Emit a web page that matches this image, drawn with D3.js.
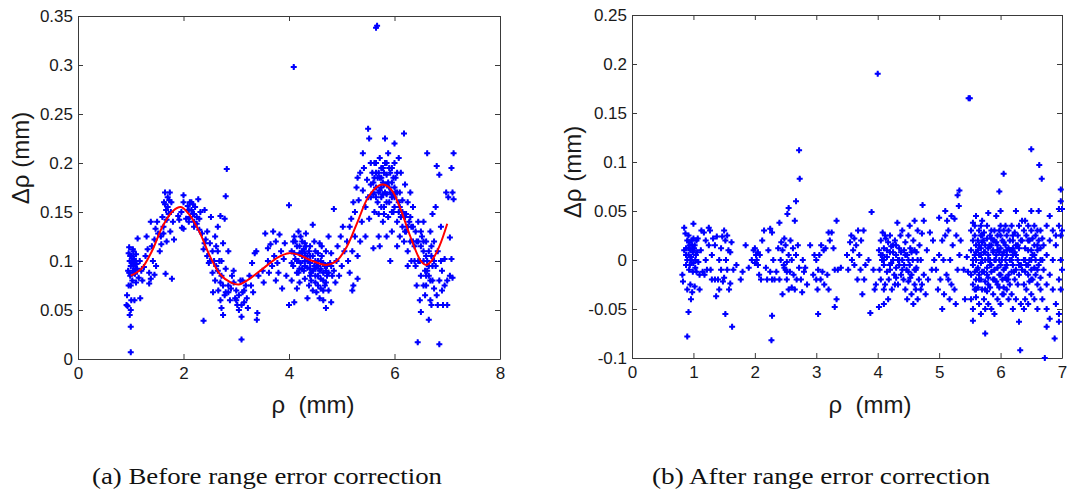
<!DOCTYPE html>
<html>
<head>
<meta charset="utf-8">
<script src="https://cdn.jsdelivr.net/npm/d3@7"></script>
<style>
body { margin: 0; background: #fff; }
</style>
</head>
<body>
<svg id="fig" width="1068" height="491"></svg>
<script>

// ---- panel (a): before correction ----
var xTicksA = [0, 2, 4, 6, 8];
var yTicksA = [0, 0.05, 0.1, 0.15, 0.2, 0.25, 0.3, 0.35];
var yLabelsA = ["0", "0.05", "0.1", "0.15", "0.2", "0.25", "0.3", "0.35"];

var fitRho  = [1.0, 1.2, 1.4, 1.6, 1.8, 1.95, 2.1, 2.3, 2.5, 2.7, 2.9, 3.05, 3.2, 3.5, 3.8, 4.0, 4.2, 4.4, 4.7, 4.9, 5.1, 5.3, 5.5, 5.7, 5.8, 5.95, 6.1, 6.3, 6.5, 6.6, 6.7, 6.85, 7.0];
var fitDrho = [0.085, 0.092, 0.11, 0.135, 0.151, 0.155, 0.148, 0.13, 0.105, 0.086, 0.078, 0.076, 0.08, 0.092, 0.104, 0.108, 0.106, 0.101, 0.096, 0.1, 0.115, 0.14, 0.165, 0.177, 0.178, 0.172, 0.155, 0.125, 0.1, 0.096, 0.1, 0.115, 0.138];

var beforeOutliers = [[5.65,0.338],[5.67,0.34],[4.09,0.298],[2.82,0.194],[2.8,0.166],[4.0,0.157],[1.0,0.007],[1.0,0.033],[3.1,0.02],[6.44,0.017],[6.85,0.015],[2.38,0.039],[3.39,0.04],[5.72,0.115]];

var beforeLeft = [[0.92,0.055],[0.93,0.065],[0.95,0.09],[0.96,0.108],[0.97,0.114],[0.98,0.1],[0.99,0.085],[1.0,0.075],[1.0,0.095],[1.02,0.105],[1.03,0.08],[1.04,0.112],[1.05,0.095],[1.06,0.088],[1.07,0.06],[1.08,0.1],[1.1,0.107],[1.1,0.078],[1.12,0.092],[1.13,0.123],[1.15,0.083],[1.17,0.1],[1.18,0.062],[1.2,0.09],[1.22,0.08],[0.96,0.075],[0.98,0.045],[1.01,0.06],[1.0,0.05],[0.94,0.054],[1.05,0.11],[1.08,0.087],[1.11,0.097],[1.25,0.094],[1.28,0.105],[1.3,0.125],[1.32,0.112],[1.35,0.088],[1.38,0.14],[1.4,0.115],[1.42,0.1],[1.45,0.122],[1.47,0.133],[1.48,0.095],[1.5,0.14],[1.52,0.128],[1.55,0.11],[1.57,0.125],[1.6,0.145],[1.62,0.135],[1.63,0.16],[1.65,0.17],[1.67,0.152],[1.68,0.12],[1.7,0.165],[1.72,0.148],[1.74,0.17],[1.75,0.13],[1.77,0.16],[1.78,0.082],[1.8,0.14],[1.82,0.122],[1.38,0.082],[1.45,0.086],[1.35,0.077],[1.66,0.087],[1.58,0.117],[1.62,0.128],[1.9,0.146],[1.92,0.142],[1.96,0.15],[2.0,0.16],[2.0,0.167],[1.97,0.134],[2.05,0.143],[2.08,0.156],[2.1,0.152],[2.12,0.145],[2.15,0.16],[2.18,0.148],[2.2,0.14],[2.22,0.155],[2.25,0.138],[2.28,0.163],[2.3,0.132],[2.32,0.15],[2.35,0.128],[2.38,0.112],[2.4,0.152],[2.42,0.122],[2.45,0.105],[2.45,0.13],[2.48,0.098],[2.5,0.118],[2.52,0.145],[2.55,0.11],[2.55,0.088],[2.58,0.1],[2.6,0.125],[2.62,0.095],[2.65,0.135],[2.65,0.11],[2.68,0.1],[2.7,0.146],[2.72,0.085],[2.75,0.118],[2.75,0.075],[2.78,0.143],[2.8,0.092],[2.56,0.068],[2.6,0.08],[2.66,0.07],[2.7,0.06],[2.72,0.052],[2.75,0.045],[2.78,0.065],[2.8,0.068],[2.85,0.075],[2.88,0.06],[2.9,0.072],[2.92,0.085],[2.95,0.09],[2.98,0.062],[3.0,0.07],[3.02,0.055],[3.05,0.05],[3.08,0.08],[3.1,0.043],[3.12,0.068],[3.15,0.058],[3.18,0.075],[3.2,0.062],[3.22,0.052],[3.25,0.085],[3.28,0.075],[3.3,0.098],[3.32,0.068],[3.35,0.108],[3.38,0.11],[3.4,0.047],[3.42,0.085],[2.72,0.1],[2.85,0.11],[2.2,0.135],[2.3,0.143],[2.1,0.14],[2.0,0.133],[2.95,0.078],[3.05,0.065],[3.12,0.08],[2.62,0.115],[2.5,0.1],[2.4,0.118]];

var beforeMid = [[3.5,0.09],[3.55,0.128],[3.6,0.1],[3.62,0.088],[3.65,0.117],[3.68,0.095],[3.7,0.13],[3.72,0.105],[3.75,0.12],[3.78,0.098],[3.8,0.088],[3.82,0.127],[3.85,0.11],[3.87,0.072],[3.9,0.102],[3.92,0.118],[3.95,0.085],[3.52,0.078],[3.6,0.113],[3.75,0.08],[4.0,0.055],[4.05,0.08],[4.05,0.11],[4.08,0.095],[4.1,0.125],[4.1,0.058],[4.12,0.102],[4.15,0.115],[4.15,0.088],[4.18,0.13],[4.2,0.108],[4.2,0.078],[4.22,0.098],[4.25,0.12],[4.25,0.092],[4.28,0.112],[4.3,0.1],[4.3,0.082],[4.32,0.128],[4.35,0.105],[4.35,0.093],[4.38,0.075],[4.4,0.115],[4.4,0.098],[4.42,0.088],[4.45,0.137],[4.45,0.105],[4.48,0.095],[4.5,0.078],[4.5,0.11],[4.52,0.068],[4.55,0.1],[4.55,0.085],[4.58,0.118],[4.6,0.092],[4.6,0.072],[4.62,0.105],[4.65,0.08],[4.65,0.06],[4.68,0.095],[4.7,0.11],[4.7,0.052],[4.72,0.085],[4.75,0.125],[4.75,0.07],[4.78,0.098],[4.8,0.058],[4.8,0.108],[4.82,0.085],[4.85,0.153],[4.85,0.09],[4.88,0.078],[4.9,0.1],[4.92,0.115],[4.95,0.085],[4.98,0.125],[5.0,0.095],[5.02,0.135],[5.05,0.11],[4.12,0.12],[4.18,0.1],[4.28,0.09],[4.38,0.11],[4.48,0.12],[4.58,0.09],[4.68,0.075],[4.05,0.098],[4.15,0.072],[4.22,0.125],[4.32,0.115],[4.42,0.08],[4.52,0.095],[4.62,0.115],[4.72,0.095],[4.58,0.062],[4.45,0.07],[4.35,0.062],[4.08,0.12],[4.25,0.105],[4.4,0.085],[4.55,0.108],[4.65,0.098],[4.3,0.118],[4.18,0.088],[4.5,0.092],[4.75,0.088]];

var beforeRight = [[5.1,0.12],[5.12,0.1],[5.15,0.135],[5.15,0.088],[5.18,0.143],[5.2,0.07],[5.2,0.11],[5.22,0.16],[5.25,0.125],[5.25,0.15],[5.28,0.175],[5.3,0.105],[5.3,0.185],[5.32,0.162],[5.35,0.12],[5.35,0.19],[5.38,0.14],[5.4,0.172],[5.4,0.21],[5.42,0.195],[5.45,0.155],[5.45,0.125],[5.48,0.183],[5.5,0.235],[5.5,0.165],[5.52,0.225],[5.52,0.143],[5.55,0.2],[5.55,0.178],[5.58,0.19],[5.6,0.168],[5.6,0.113],[5.62,0.185],[5.62,0.15],[5.65,0.2],[5.65,0.175],[5.68,0.16],[5.7,0.19],[5.7,0.148],[5.72,0.205],[5.72,0.172],[5.75,0.165],[5.75,0.185],[5.78,0.195],[5.78,0.14],[5.8,0.178],[5.8,0.155],[5.82,0.225],[5.82,0.2],[5.85,0.168],[5.85,0.188],[5.88,0.145],[5.88,0.21],[5.9,0.175],[5.9,0.16],[5.92,0.1],[5.95,0.195],[5.95,0.18],[5.98,0.15],[6.0,0.22],[6.0,0.165],[6.02,0.185],[6.05,0.17],[6.05,0.14],[6.08,0.205],[6.1,0.155],[6.1,0.125],[6.12,0.19],[6.15,0.162],[6.15,0.135],[6.18,0.23],[6.18,0.12],[6.2,0.178],[6.2,0.145],[6.22,0.13],[6.25,0.16],[6.25,0.11],[6.28,0.14],[6.3,0.12],[6.3,0.17],[6.32,0.1],[6.35,0.135],[6.35,0.155],[6.38,0.115],[6.4,0.095],[6.4,0.13],[6.42,0.075],[6.45,0.12],[6.45,0.14],[6.48,0.06],[6.48,0.1],[6.5,0.048],[6.5,0.085],[6.52,0.125],[6.55,0.14],[6.55,0.11],[6.58,0.065],[6.58,0.09],[6.6,0.12],[6.6,0.075],[6.62,0.1],[6.62,0.21],[6.65,0.085],[6.65,0.04],[6.68,0.13],[6.68,0.06],[6.7,0.105],[6.7,0.055],[6.72,0.148],[6.72,0.08],[6.75,0.12],[6.75,0.072],[6.78,0.095],[6.78,0.155],[6.8,0.065],[6.8,0.197],[6.82,0.11],[6.82,0.055],[6.85,0.188],[6.85,0.08],[6.88,0.1],[6.88,0.135],[6.9,0.07],[6.9,0.09],[6.92,0.055],[6.95,0.075],[6.95,0.102],[6.98,0.17],[7.0,0.055],[7.02,0.165],[7.05,0.085],[7.05,0.124],[7.08,0.195],[7.08,0.102],[7.1,0.17],[7.1,0.083],[7.12,0.21],[7.12,0.163],[7.0,0.08],[5.95,0.13],[6.05,0.115],[5.85,0.125],[5.3,0.082],[5.22,0.075],[5.8,0.148],[5.7,0.125],[5.6,0.17],[6.25,0.095],[6.38,0.1],[6.5,0.115],[5.75,0.175],[5.85,0.178],[5.92,0.19],[6.0,0.175],[6.08,0.16],[5.68,0.185],[5.78,0.168],[5.98,0.168],[6.12,0.145],[6.22,0.148],[6.32,0.135],[6.42,0.12],[6.55,0.1],[6.65,0.11],[6.72,0.095],[6.62,0.09]];

// extra points filling the dense cores of panel (a)
var beforeCores = [[0.97,0.088],[1.02,0.098],[1.06,0.102],[0.99,0.105],[1.04,0.09],[1.09,0.092],[1.65,0.158],[1.7,0.155],[1.73,0.162],[1.68,0.142],[1.76,0.15],[2.15,0.152],[2.2,0.148],[2.25,0.145],[2.18,0.158],[2.12,0.16],[2.65,0.09],[2.7,0.078],[2.85,0.068],[3.0,0.06],[3.1,0.055],[3.15,0.07],[4.1,0.108],[4.15,0.1],[4.2,0.115],[4.25,0.11],[4.3,0.095],[4.35,0.1],[4.4,0.105],[4.45,0.09],[4.5,0.1],[4.55,0.095],[4.6,0.082],[4.65,0.088],[4.7,0.09],[4.2,0.092],[4.3,0.108],[4.4,0.092],[4.5,0.085],[4.6,0.1],[4.7,0.078],[4.8,0.095],[4.65,0.07],[4.55,0.075],[5.6,0.18],[5.65,0.19],[5.7,0.17],[5.72,0.185],[5.75,0.195],[5.78,0.18],[5.8,0.19],[5.82,0.17],[5.85,0.16],[5.88,0.18],[5.9,0.195],[5.92,0.17],[5.95,0.165],[5.98,0.185],[6.0,0.155],[6.02,0.17],[6.05,0.19],[6.08,0.15],[6.1,0.17],[6.15,0.15],[5.65,0.165],[5.75,0.155],[5.85,0.2],[5.95,0.15],[6.0,0.2],[5.55,0.165],[5.62,0.2],[6.2,0.13],[6.25,0.135],[6.3,0.145],[6.35,0.12],[6.45,0.1],[6.5,0.13],[6.55,0.12],[6.6,0.105],[6.65,0.095],[6.7,0.115],[6.75,0.1],[6.6,0.085],[6.68,0.08],[6.55,0.075]];

// ---- panel (b): after correction ----
var xTicksB = [0, 1, 2, 3, 4, 5, 6, 7];
var yTicksB = [-0.1, -0.05, 0, 0.05, 0.1, 0.15, 0.2, 0.25];
var yLabelsB = ["-0.1", "-0.05", "0", "0.05", "0.1", "0.15", "0.2", "0.25"];

var afterOutliers = [[0.9,-0.078],[0.92,-0.053],[1.52,-0.055],[1.63,-0.068],[2.27,-0.082],[2.28,-0.057],[2.72,0.112],[2.73,0.083],[2.67,0.06],[4.0,0.19],[5.48,0.165],[5.5,0.165],[3.03,-0.055],[3.3,-0.048],[3.33,0.04],[3.9,0.049],[3.88,-0.054],[6.5,0.113],[6.63,0.097],[6.67,0.083],[6.05,0.088],[5.98,0.07],[6.32,-0.092],[6.3,-0.063],[6.72,-0.1],[6.98,0.072],[5.33,0.071],[5.3,0.066],[4.73,0.056],[5.75,-0.075],[6.95,-0.063],[6.88,-0.08],[6.75,-0.068],[5.55,-0.062]];

var afterLeft = [[0.82,-0.015],[0.83,-0.022],[0.85,0.033],[0.85,0.01],[0.87,0.027],[0.88,-0.005],[0.88,0.012],[0.9,0.02],[0.9,0.0],[0.9,-0.03],[0.92,0.025],[0.92,0.005],[0.93,-0.01],[0.94,0.015],[0.95,-0.025],[0.95,0.01],[0.96,-0.04],[0.97,0.02],[0.97,0.0],[0.98,-0.033],[0.99,0.008],[1.0,0.022],[1.0,-0.003],[1.0,0.037],[1.02,0.015],[1.02,-0.027],[1.04,0.005],[1.05,0.02],[1.05,-0.012],[1.07,0.022],[1.08,-0.002],[1.1,-0.015],[1.1,-0.03],[1.12,0.01],[1.13,0.03],[1.15,-0.012],[1.17,0.028],[1.18,-0.015],[1.2,0.0],[1.2,0.02],[1.22,-0.01],[1.25,0.033],[1.25,0.015],[1.27,0.03],[1.28,-0.01],[1.3,0.005],[1.3,-0.02],[1.32,0.022],[1.35,-0.02],[1.35,0.015],[1.37,-0.037],[1.38,0.024],[1.4,-0.02],[1.42,0.0],[1.42,-0.03],[1.45,0.012],[1.45,-0.01],[1.47,0.024],[1.48,-0.022],[1.5,0.03],[1.5,-0.018],[1.52,0.02],[1.53,0.0],[1.55,-0.01],[1.55,0.025],[1.57,0.01],[1.58,-0.03],[1.6,-0.024],[1.6,0.008],[1.62,0.018],[1.65,-0.01],[1.7,-0.005],[1.77,-0.02],[1.8,-0.012],[0.93,0.018],[0.96,0.003],[1.01,0.012],[1.03,-0.008],
[1.85,0.015],[1.9,-0.008],[1.95,0.0],[1.98,0.01],[2.0,0.012],[2.0,-0.003],[2.02,0.005],[2.03,0.0],[2.05,0.008],[2.05,-0.005],[2.07,-0.015],[2.08,0.005],[2.1,-0.02],[2.12,0.02],[2.15,0.03],[2.18,-0.008],[2.2,-0.02],[2.22,0.01],[2.25,0.032],[2.25,-0.012],[2.28,0.028],[2.28,-0.02],[2.3,0.0],[2.32,-0.02],[2.35,-0.012],
[2.38,0.012],[2.4,-0.02],[2.4,0.038],[2.42,0.0],[2.43,0.018],[2.45,-0.035],[2.45,0.01],[2.47,-0.005],[2.48,0.022],[2.5,-0.01],[2.5,0.015],[2.52,-0.002],[2.52,-0.02],[2.53,0.047],[2.55,0.005],[2.55,0.053],[2.55,-0.03],[2.57,-0.012],[2.58,0.02],[2.6,0.0],[2.6,-0.028],[2.62,0.012],[2.63,-0.015],[2.65,0.04],[2.65,-0.03],[2.67,0.005],[2.68,-0.02],[2.7,0.015],[2.72,-0.008],[2.75,-0.02],[2.77,-0.033],[2.78,0.0],[2.8,-0.012],[2.82,-0.008],[2.85,-0.025],[2.9,0.015],[2.48,-0.008],[2.52,-0.012],
[2.95,-0.015],[2.97,0.005],[3.0,-0.02],[3.0,0.0],[3.02,-0.03],[3.03,-0.01],[3.05,0.005],[3.07,-0.02],[3.08,0.015],[3.1,-0.012],[3.12,0.01],[3.13,-0.025],[3.15,0.012],[3.18,-0.015],[3.2,0.028],[3.2,-0.03],[3.22,0.02],[3.25,0.028],[3.28,0.012],[3.3,-0.01],[3.33,-0.04],[3.35,-0.01],[3.4,-0.008],
[3.5,0.005],[3.52,-0.01],[3.55,0.018],[3.57,0.025],[3.58,0.0],[3.6,0.01],[3.62,-0.005],[3.62,0.022],[3.65,0.015],[3.67,-0.02],[3.68,0.03],[3.7,0.005],[3.72,-0.01],[3.73,0.02],[3.75,-0.035],[3.77,0.03],[3.78,-0.02],[3.8,-0.005],[3.85,0.0],[3.93,-0.01],[3.95,-0.03],[3.97,-0.025]];

var afterMid = [[4.02,0.01],[4.03,-0.01],[4.05,0.02],[4.05,-0.02],[4.07,0.0],[4.08,0.028],[4.1,-0.005],[4.1,0.012],[4.12,-0.025],[4.13,0.022],[4.15,0.003],[4.15,-0.012],[4.17,0.018],[4.18,-0.02],[4.2,0.025],[4.2,0.008],[4.22,-0.003],[4.23,-0.03],[4.25,0.015],[4.25,0.0],[4.27,-0.015],[4.28,0.02],[4.3,0.005],[4.3,-0.008],[4.32,0.038],[4.33,-0.025],[4.35,0.012],[4.35,-0.005],[4.37,0.025],[4.38,-0.015],[4.4,0.0],[4.4,0.03],[4.42,-0.02],[4.43,0.01],[4.45,-0.03],[4.45,0.018],[4.47,-0.01],[4.48,0.005],[4.5,-0.022],[4.5,0.025],[4.52,-0.005],[4.53,0.012],[4.55,-0.035],[4.55,-0.015],[4.57,0.0],[4.58,0.02],[4.6,-0.025],[4.6,0.04],[4.62,-0.01],[4.63,0.008],[4.65,-0.04],[4.65,0.03],[4.67,-0.02],[4.68,0.015],[4.7,-0.03],[4.7,0.0],[4.72,0.027],[4.75,-0.015],[4.75,0.04],[4.78,-0.035],[4.8,0.01],[4.82,-0.02],[4.85,0.028],[4.88,-0.01],[4.9,0.02],[4.92,0.0],[4.1,-0.03],[4.17,-0.04],[4.28,-0.025],[4.38,0.008],[4.48,-0.04],[4.52,0.035],[4.58,-0.045],[4.62,-0.03],[4.72,-0.025],[4.08,0.005],[4.22,0.014],[4.33,0.0],[4.43,-0.005],[4.53,-0.018],[4.63,-0.008],[4.12,0.025],[4.02,-0.048],[4.1,-0.045],
[4.95,-0.01],[4.98,-0.03],[5.0,0.043],[5.0,0.005],[5.02,-0.02],[5.05,-0.05],[5.05,0.02],[5.07,0.0],[5.08,-0.035],[5.1,0.025],[5.1,0.05],[5.12,-0.015],[5.13,0.04],[5.15,-0.02],[5.15,0.03],[5.17,-0.04],[5.18,0.0],[5.2,0.045],[5.2,-0.025],[5.22,0.015],[5.25,-0.03],[5.25,0.042],[5.27,-0.045],[5.28,0.025],[5.3,-0.01],[5.32,0.055],[5.33,0.005],[5.35,0.02],[5.4,-0.01],[5.42,-0.04],[5.45,0.003],[5.47,-0.012]];

// dense right cluster, one row per rho column: [rho, [drho ...]]
var afterDense = [
  [5.52,[0.01,-0.015,0.03,-0.04]],[5.55,[-0.005,0.02,-0.025,0.038,-0.05]],[5.58,[0.005,-0.012,0.025,-0.03]],
  [5.6,[0.015,-0.02,0.0,0.045,-0.038]],[5.63,[-0.008,0.02,-0.028,0.01]],[5.65,[0.03,-0.015,0.005,-0.045]],
  [5.68,[-0.02,0.012,0.025,-0.003,-0.055]],[5.7,[0.0,-0.03,0.018,0.04]],[5.73,[0.008,-0.012,-0.04,0.028]],
  [5.75,[-0.022,0.015,0.0,-0.05]],[5.78,[0.022,-0.008,0.035,-0.032]],[5.8,[0.005,-0.018,0.012,-0.045,0.048]],
  [5.83,[-0.005,0.025,-0.028,0.0]],[5.85,[0.015,-0.012,0.03,-0.05]],[5.88,[-0.02,0.008,-0.035,0.02]],
  [5.9,[0.0,0.03,-0.01,-0.055]],[5.93,[0.018,-0.022,0.005,0.045]],[5.95,[-0.008,0.01,-0.04,0.025]],
  [5.98,[0.03,-0.015,0.0,-0.028]],[6.0,[0.012,-0.005,0.035,-0.045,0.05]],[6.03,[-0.02,0.02,0.005,-0.035]],
  [6.05,[0.008,-0.01,0.03,-0.028]],[6.08,[0.015,-0.018,0.0,0.035]],[6.1,[-0.005,0.025,-0.03,0.01]],
  [6.13,[0.012,-0.015,0.03,-0.04]],[6.15,[0.0,0.02,-0.025]],[6.18,[0.01,-0.012,0.035,-0.035]],
  [6.2,[0.02,-0.005,0.005,-0.05]],[6.23,[0.008,-0.02,0.028]],[6.25,[0.015,-0.01,-0.04,0.05]],
  [6.28,[0.0,0.025,-0.025]],[6.3,[0.012,-0.015,0.035]],[6.33,[-0.005,0.02,-0.045]],
  [6.35,[0.02,-0.01,0.04]],[6.38,[0.0,-0.025,0.03,-0.05]],[6.4,[0.012,-0.012,0.04,-0.04]],
  [6.42,[-0.005,0.025,-0.03]],[6.45,[0.01,-0.015,0.035,-0.045]],[6.47,[0.0,0.02,-0.022]],
  [6.5,[-0.01,0.03,0.01,-0.035,0.05]],[6.52,[0.005,-0.02,0.022]],[6.55,[0.015,-0.008,0.035,-0.04]],
  [6.57,[-0.015,0.025,0.0]],[6.6,[0.01,-0.025,0.03,-0.05]],[6.62,[-0.005,0.02,0.05]],
  [6.65,[0.012,-0.018,-0.03,0.03]],[6.68,[0.0,0.022,-0.04]],[6.7,[-0.01,0.015]],
  [6.75,[0.005,-0.025,0.035,-0.05]],[6.8,[-0.015,0.02,-0.06,0.045]],[6.85,[0.0,-0.03,0.03]],
  [6.9,[0.015,-0.045,0.025]],[6.95,[-0.02,0.035,-0.055,0.052]],[6.98,[0.0,0.025,-0.03,0.06]],
  [7.0,[0.03,-0.01,0.052]]
];

// extra points filling the dense cores of panel (b)
var afterCores = [[0.88,0.005],[0.92,0.012],[0.95,0.0],[0.98,0.015],[1.0,0.01],[1.03,0.0],[1.06,0.008],[0.94,-0.005],[0.99,-0.012],[4.05,0.005],[4.1,0.0],[4.15,0.01],[4.2,-0.01],[4.25,0.008],[4.3,0.015],[4.35,0.0],[4.4,-0.01],[4.45,0.005],[4.5,0.0],[4.55,0.008],[4.6,-0.01],[4.65,0.0],[4.2,-0.005],[4.3,-0.018],[4.5,-0.012],[4.6,0.01],[5.55,0.0],[5.6,0.008],[5.62,-0.01],[5.65,0.015],[5.68,0.005],[5.7,-0.012],[5.72,0.02],[5.75,0.008],[5.78,-0.015],[5.8,0.0],[5.82,0.015],[5.85,-0.005],[5.88,0.01],[5.9,-0.02],[5.92,0.0],[5.95,0.015],[5.98,0.008],[6.0,-0.015],[6.02,0.0],[6.05,0.018],[6.08,-0.008],[6.1,0.005],[6.12,-0.02],[6.15,0.01],[6.18,0.0],[6.2,0.012],[6.22,-0.012],[6.25,0.005],[6.28,0.015],[6.3,-0.005],[5.6,-0.03],[5.7,0.025],[5.8,-0.025],[5.9,0.02],[6.0,0.025],[6.1,-0.02],[6.2,0.025],[5.65,-0.02],[5.75,-0.03],[5.85,0.022],[5.95,-0.025],[6.05,-0.035],[5.58,0.035],[5.68,0.035],[6.4,0.0],[6.45,0.02],[6.5,0.0],[6.55,0.005],[6.6,-0.01],[6.65,0.0],[6.5,-0.02],[6.6,0.015],[6.45,-0.005]];

var captions = ["(a) Before range error correction", "(b) After range error correction"];

// --------------------------------------------------------------

var svg = d3.select("#fig");
var cross = d3.symbol().type(d3.symbolCross).size(20);
var diamond = d3.symbol().type(d3.symbolDiamond).size(9);
var sans = "'Liberation Sans', Arial, sans-serif";

function drawPanel(cfg) {

    var x = d3.scaleLinear().domain(cfg.xDomain).range(cfg.xRange);
    var y = d3.scaleLinear().domain(cfg.yDomain).range(cfg.yRange);
    var g = svg.append("g");

    var axes = [
        [d3.axisBottom(x).tickValues(cfg.xTicks).tickFormat(d3.format("d")).tickPadding(8), "translate(0," + cfg.yRange[0] + ")"],
        [d3.axisLeft(y).tickValues(cfg.yTicks).tickFormat(function(d, i) { return cfg.yLabels[i]; }).tickPadding(5), "translate(" + cfg.xRange[0] + ",0)"],
        [d3.axisTop(x).tickValues(cfg.xTicks).tickFormat(""), "translate(0," + cfg.yRange[1] + ")"],
        [d3.axisRight(y).tickValues(cfg.yTicks).tickFormat(""), "translate(" + cfg.xRange[1] + ",0)"]
    ];
    axes.forEach(function(a) {
        var ax = g.append("g").attr("transform", a[1])
            .call(a[0].tickSizeInner(-5).tickSizeOuter(0));
        ax.select(".domain").attr("stroke", "#3a3a3a");
        ax.selectAll(".tick line").attr("stroke", "#3a3a3a");
        ax.selectAll("text").attr("fill", "#1a1a1a")
            .style("font-size", "17px").style("font-family", sans);
    });

    // plus-shaped markers with a filled centre
    var marks = g.append("g").selectAll("g")
        .data(cfg.pts)
        .enter().append("g")
        .attr("transform", function(d) { return "translate(" + x(d[0]) + "," + y(d[1]) + ")"; })
        .attr("fill", "#0000ff");
    marks.append("path").attr("d", cross);
    marks.append("path").attr("d", diamond);

    if (cfg.fit) {
        var line = d3.line()
            .x(function(d, i) { return x(cfg.fit[0][i]); })
            .y(function(d) { return y(d); })
            .curve(d3.curveCatmullRom);
        g.append("path")
            .attr("d", line(cfg.fit[1]))
            .attr("fill", "none")
            .attr("stroke", "#ff0000")
            .attr("stroke-width", 2);
    }

    g.append("text")
        .attr("x", cfg.xLabelX).attr("y", 413)
        .attr("text-anchor", "middle")
        .attr("fill", "#1a1a1a")
        .style("font-size", "24px").style("font-family", sans)
        .style("white-space", "pre")
        .text("\u03c1  (mm)");

    g.append("text")
        .attr("transform", "translate(" + cfg.yLabelX + "," + cfg.yLabelY + ") rotate(-90)")
        .attr("text-anchor", "middle")
        .attr("fill", "#1a1a1a")
        .style("font-size", "24px").style("font-family", sans)
        .style("white-space", "pre")
        .text("\u0394\u03c1 (mm)");

    g.append("text")
        .attr("x", cfg.capX).attr("y", 484)
        .attr("text-anchor", "middle")
        .attr("fill", "#111")
        .style("font-family", "'Liberation Serif', 'Times New Roman', serif")
        .style("font-size", "23px")
        .attr("textLength", cfg.capW).attr("lengthAdjust", "spacingAndGlyphs")
        .text(cfg.caption);
}

var flatDense = [];
afterDense.forEach(function(r) { r[1].forEach(function(v) { flatDense.push([r[0], v]); }); });

drawPanel({
    xDomain: [0, 8], xRange: [78, 500],
    yDomain: [0, 0.35], yRange: [359, 16],
    xTicks: xTicksA, yTicks: yTicksA, yLabels: yLabelsA,
    pts: beforeLeft.concat(beforeMid, beforeRight, beforeCores, beforeOutliers),
    fit: [fitRho, fitDrho],
    xLabelX: 313, yLabelX: 29, yLabelY: 158,
    caption: captions[0], capX: 267, capW: 350
});

drawPanel({
    xDomain: [0, 7], xRange: [632, 1062],
    yDomain: [-0.1, 0.25], yRange: [358, 15],
    xTicks: xTicksB, yTicks: yTicksB, yLabels: yLabelsB,
    pts: afterLeft.concat(afterMid, flatDense, afterCores, afterOutliers),
    fit: null,
    xLabelX: 870, yLabelX: 581, yLabelY: 172,
    caption: captions[1], capX: 821, capW: 338
});

</script>
</body>
</html>
